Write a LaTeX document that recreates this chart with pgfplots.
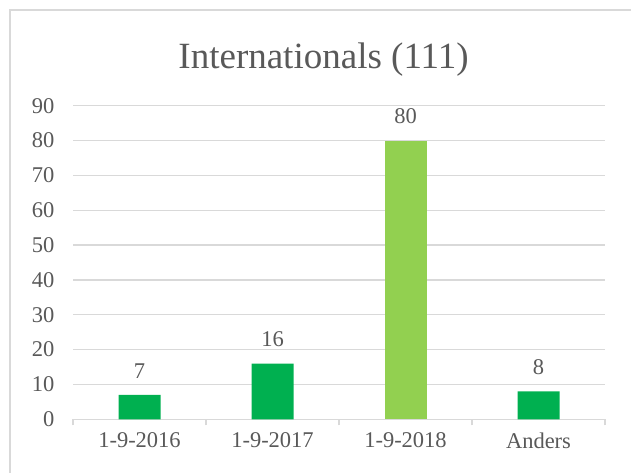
\documentclass[border=0pt]{standalone}
\usepackage{pgfplots}
\pgfplotsset{compat=1.18}
\usepackage{fontspec}
\setmainfont{Liberation Serif}
\definecolor{txt}{HTML}{595959}
\definecolor{gridc}{HTML}{D9D9D9}
\definecolor{g1}{HTML}{00B050}
\definecolor{g2}{HTML}{92D050}
\begin{document}
\begin{tikzpicture}[x=1pt,y=1pt]
\useasboundingbox (0,0) rectangle (631,472);
\draw[gridc,line width=1.2pt] (10,-5) -- (10,462) -- (640,462);
\node[txt,anchor=base,font=\fontsize{37}{40}\selectfont] at (323.5,403) {Internationals (111)};
\begin{axis}[
  at={(73pt,52.7pt)}, anchor=south west,
  scale only axis, width=532pt, height=313.6pt,
  xmin=-0.5, xmax=3.5, ymin=0, ymax=90,
  ytick={0,10,...,90},
  xtick={0,1,2,3},
  xticklabels={1-9-2016,1-9-2017,1-9-2018,Anders},
  minor xtick={-0.5,0.5,1.5,2.5,3.5},
  xtick pos=left, ytick pos=left,
  major tick length=0pt,
  minor tick length=6pt,
  tick align=outside,
  minor tick style={gridc,line width=1.2pt},
  axis line style={draw=none},
  ymajorgrids, major grid style={gridc,line width=1.2pt},
  ticklabel style={txt,font=\fontsize{22.5}{24}\selectfont},
  /pgf/number format/assume math mode=true,
  yticklabel style={xshift=-15pt},
  xticklabel style={yshift=-10pt},
  ybar, bar width=42pt, bar shift=0pt,
  nodes near coords,
  every node near coord/.append style={txt,font=\fontsize{22.5}{24}\selectfont,yshift=13pt},
  axis on top=false,
]
\addplot[fill=g1,draw=none] coordinates {(0,7) (1,16) (3,8)};
\addplot[fill=g2,draw=none] coordinates {(2,80)};
\end{axis}
\end{tikzpicture}
\end{document}
